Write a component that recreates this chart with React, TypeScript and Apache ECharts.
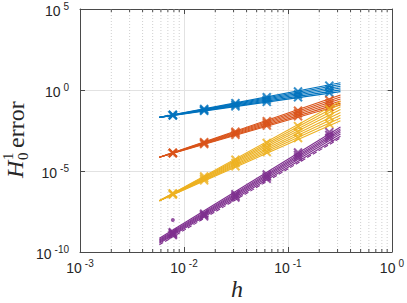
import React, { useEffect, useRef } from "react";
import * as echarts from "echarts";

// ---- data ----
const hLine = [0.0058, 0.32];
const hPts = [1 / 128, 1 / 64, 1 / 32, 1 / 16, 1 / 8, 1 / 4];
const minorX = [
  0.002, 0.003, 0.004, 0.005, 0.006, 0.007, 0.008, 0.009,
  0.02, 0.03, 0.04, 0.05, 0.06, 0.07, 0.08, 0.09,
  0.2, 0.3, 0.4, 0.5, 0.6, 0.7, 0.8, 0.9,
];

const blueLines = [
  [0.0204, 2.82], [0.0204, 2.19], [0.0204, 1.7], [0.0204, 1.32], [0.0204, 1.02], [0.0204, 0.79],
];
const blueMarks = [
  [0.0295, 0.0676, 0.155, 0.355, 0.813, 1.86],
  [0.0282, 0.0589, 0.123, 0.251, 0.525, 1.1],
  [0.0269, 0.0513, 0.0977, 0.186, 0.355, 0.676],
];

const orangeLines = [
  [7.08e-5, 0.49], [7.08e-5, 0.372], [7.08e-5, 0.275], [7.08e-5, 0.209], [7.08e-5, 0.155], [7.08e-5, 0.117],
];
const orangeMarks = [
  [1.35e-4, 6.03e-4, 2.63e-3, 0.0117, 0.0525, 0.232],
  [1.29e-4, 5.25e-4, 2.19e-3, 8.91e-3, 0.0363, 0.148],
  [1.26e-4, 4.68e-4, 1.74e-3, 6.46e-3, 0.024, 0.0912],
];

const yellowLines = [
  [1.48e-7, 0.2], [1.48e-7, 0.135], [1.48e-7, 0.0912], [1.48e-7, 0.0617],
  [1.48e-7, 0.0407], [1.48e-7, 0.0275], [1.48e-7, 0.0186], [1.48e-7, 0.0126],
];
const yellowMarks = [
  [4.17e-7, 4.57e-6, 4.9e-5, 5.37e-4, 5.89e-3, 0.0646],
  [3.8e-7, 3.47e-6, 3.09e-5, 2.75e-4, 2.51e-3, 0.0224],
  [3.55e-7, 2.63e-6, 1.95e-5, 1.48e-4, 1.1e-3, 8.13e-3],
];

const purpleLines = [
  [7.08e-10, 5.25e-3], [6.03e-10, 3.98e-3], [5.25e-10, 3.16e-3],
  [4.57e-10, 2.51e-3], [3.98e-10, 1.91e-3], [3.47e-10, 1.41e-3],
];
const purpleDash = [[2.8e-10, 1.1e-3]];
const purpleMarks = [
  [1.66e-9, 2.29e-8, 3.63e-7, 6.03e-6, 1.38e-4, 2.51e-3],
  [1.48e-9, 1.91e-8, 2.88e-7, 4.47e-6, 9.77e-5, 1.66e-3],
  [1.26e-9, 1.58e-8, 2.29e-7, 3.31e-6, 6.92e-5, 1.12e-3],
];
const purpleExtra = [1.12e-9];
const purpleDot = [9.5e-9];

const BLUE = "#0072BD";
const ORANGE = "#D95319";
const YELLOW = "#EDB120";
const PURPLE = "#7E2F8E";

const XSYM = "path://M0,0L10,10M10,0L0,10";
const AXC = "#4a4a4a";

function mkLines(lines: number[][], color: string, dashed = false) {
  return lines.map((l) => ({
    type: "line",
    data: [
      [hLine[0], l[0]],
      [hLine[1], l[1]],
    ],
    showSymbol: false,
    silent: true,
    z: 3,
    lineStyle: { color, width: 1.1, type: dashed ? "dashed" : "solid" },
  }));
}

function mkMarks(marks: number[][], color: string) {
  return marks.map((m) => ({
    type: "scatter",
    data: m.map((v, i) => [hPts[i], v]),
    symbol: XSYM,
    symbolSize: 8,
    silent: true,
    z: 4,
    itemStyle: { color: "none", borderColor: color, borderWidth: 2 },
  }));
}

const labelFmt = (v: number) => {
  const e = Math.round(Math.log10(v));
  return `{b|10}{s|${e}}`;
};
const rich = {
  b: { fontSize: 14, fontFamily: "Liberation Sans", color: "#262626", lineHeight: 18, verticalAlign: "bottom" },
  s: { fontSize: 10, fontFamily: "Liberation Sans", color: "#262626", padding: [0, 0, 7, 3], verticalAlign: "bottom" },
};

export default function App() {
  const ref = useRef<HTMLDivElement>(null);
  useEffect(() => {
    if (!ref.current) return;
    const chart = echarts.init(ref.current, null, { renderer: "svg" });
    const series: any[] = [
      {
        type: "custom",
        z: 1,
        silent: true,
        data: minorX.map((v) => [v, 1]),
        encode: { x: 0, y: 1 },
        clip: false,
        renderItem: (params: any, api: any) => {
          const x = api.coord([api.value(0), 1])[0];
          const cs = params.coordSys;
          const top = cs.y;
          const bot = cs.y + cs.height;
          return {
            type: "group",
            children: [
              {
                type: "line",
                shape: { x1: x, y1: top, x2: x, y2: bot },
                style: { stroke: "#cfcfcf", lineWidth: 1, lineDash: [1, 2] },
              },
              {
                type: "line",
                shape: { x1: x, y1: bot, x2: x, y2: bot - 3 },
                style: { stroke: AXC, lineWidth: 1 },
              },
              {
                type: "line",
                shape: { x1: x, y1: top, x2: x, y2: top + 3 },
                style: { stroke: AXC, lineWidth: 1 },
              },
            ],
          };
        },
      },
      ...mkLines(blueLines, BLUE),
      ...mkMarks(blueMarks, BLUE),
      ...mkLines(orangeLines, ORANGE),
      ...mkMarks(orangeMarks, ORANGE),
      ...mkLines(yellowLines, YELLOW),
      ...mkMarks(yellowMarks, YELLOW),
      ...mkLines(purpleLines, PURPLE),
      ...mkLines(purpleDash, PURPLE, true),
      ...mkMarks(purpleMarks, PURPLE),
      {
        type: "scatter",
        data: purpleExtra.map((v) => [hPts[0], v]),
        symbol: XSYM,
        symbolSize: 8,
        silent: true,
        z: 4,
        itemStyle: { color: "none", borderColor: PURPLE, borderWidth: 2 },
      },
      {
        type: "scatter",
        data: purpleDot.map((v) => [hPts[0], v]),
        symbol: "circle",
        symbolSize: 4,
        silent: true,
        z: 4,
        itemStyle: { color: PURPLE },
      },
    ];
    chart.setOption({
      animation: false,
      backgroundColor: "#fff",
      grid: { left: 80, right: 13, top: 9, bottom: 51, containLabel: false },
      xAxis: [
        {
          type: "log",
          logBase: 10,
          min: 0.001,
          max: 1,
          interval: 1,
          axisLine: { show: true, lineStyle: { color: AXC, width: 1 } },
          axisTick: { show: true, inside: true, length: 5, lineStyle: { color: AXC } },
          axisLabel: { formatter: labelFmt, rich, margin: 5 },
          splitLine: { show: true, lineStyle: { color: "#e2e2e2", width: 1 } },
        },
        {
          type: "log",
          logBase: 10,
          position: "top",
          min: 0.001,
          max: 1,
          interval: 1,
          axisLine: { show: true, lineStyle: { color: AXC, width: 1 } },
          axisTick: { show: true, inside: true, length: 5, lineStyle: { color: AXC } },
          axisLabel: { show: false },
          splitLine: { show: false },
        },
      ],
      yAxis: [
        {
          type: "log",
          logBase: 10,
          min: 1e-10,
          max: 1e5,
          interval: 5,
          axisLine: { show: true, lineStyle: { color: AXC, width: 1 } },
          axisTick: { show: true, inside: true, length: 5, lineStyle: { color: AXC } },
          axisLabel: { formatter: labelFmt, rich, margin: 11 },
          splitLine: { show: true, lineStyle: { color: "#e2e2e2", width: 1 } },
        },
        {
          type: "log",
          logBase: 10,
          position: "right",
          min: 1e-10,
          max: 1e5,
          interval: 5,
          axisLine: { show: true, lineStyle: { color: AXC, width: 1 } },
          axisTick: { show: true, inside: true, length: 5, lineStyle: { color: AXC } },
          axisLabel: { show: false },
          splitLine: { show: false },
        },
      ],
      graphic: [
        {
          type: "group",
          x: 15,
          y: 138,
          rotation: Math.PI / 2,
          children: [
            {
              type: "text",
              x: -40,
              y: 0,
              style: {
                text: "H",
                font: "italic 24px 'Liberation Serif'",
                fill: "#262626",
                verticalAlign: "middle",
                align: "left",
              },
            },
            {
              type: "text",
              x: -22,
              y: -7,
              style: {
                text: "1",
                font: "15px 'Liberation Serif'",
                fill: "#262626",
                verticalAlign: "middle",
                align: "left",
              },
            },
            {
              type: "text",
              x: -22,
              y: 8,
              style: {
                text: "0",
                font: "15px 'Liberation Serif'",
                fill: "#262626",
                verticalAlign: "middle",
                align: "left",
              },
            },
            {
              type: "text",
              x: -10,
              y: 1,
              style: {
                text: "error",
                font: "24px 'Liberation Serif'",
                fill: "#262626",
                verticalAlign: "middle",
                align: "left",
              },
            },
          ],
        },
        {
          type: "text",
          x: 237,
          y: 289,
          style: {
            text: "h",
            font: "italic 24px 'Liberation Serif'",
            fill: "#262626",
            verticalAlign: "middle",
            align: "center",
          },
        },
      ],
      series,
    });
    return () => chart.dispose();
  }, []);
  return (
    <div
      ref={ref}
      style={{ position: "fixed", left: 0, top: 0, width: 407, height: 303, background: "#fff" }}
    />
  );
}
